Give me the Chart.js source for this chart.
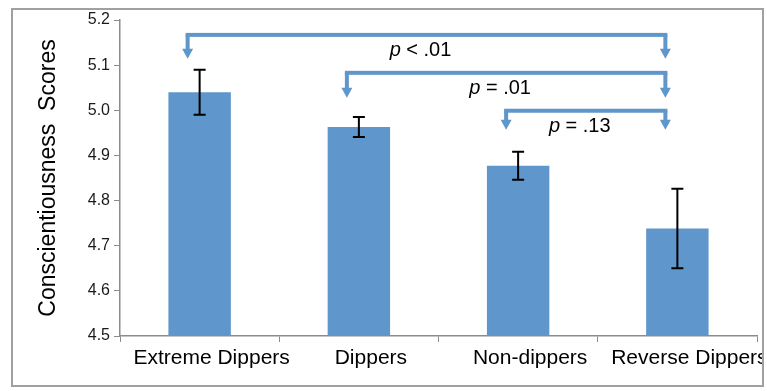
<!DOCTYPE html>
<html>
<head>
<meta charset="utf-8">
<script src="https://cdn.jsdelivr.net/npm/chart.js@4/dist/chart.umd.min.js"></script>
<style>
  html, body { margin: 0; padding: 0; background: #fff; }
  #wrap { width: 767px; height: 391px; }
</style>
</head>
<body>
<div id="wrap"><canvas id="chart"></canvas></div>
<script>
const categories = ['Extreme Dippers', 'Dippers', 'Non-dippers', 'Reverse Dippers'];
const scores = [5.04, 4.963, 4.877, 4.738];
const errors = [0.05, 0.022, 0.031, 0.088];
const yTicks = [4.5, 4.6, 4.7, 4.8, 4.9, 5.0, 5.1, 5.2];

// pairwise comparisons drawn as brackets above the bars
const compareFrom = [0, 1, 2];
const compareTo = [3, 3, 3];
const compareP = ['< .01', '= .01', '= .13'];
const bracketLevel = [5.167, 5.083, 4.999];
const bracketTip = [5.114, 5.028, 4.957];

const blue = '#5F96CB';
const font = '"Liberation Sans", Arial, sans-serif';

const frame = {
  id: 'frame',
  beforeDraw(chart) {
    const ctx = chart.ctx;
    ctx.save();
    ctx.fillStyle = '#fff';
    ctx.fillRect(0, 0, chart.width, chart.height);
    ctx.restore();
  },
  afterDraw(chart) {
    // outer frame; the last label runs under its right edge
    const ctx = chart.ctx;
    ctx.save();
    ctx.fillStyle = '#fff';
    ctx.fillRect(764, 0, chart.width - 764, chart.height);
    ctx.strokeStyle = '#a0a0a0';
    ctx.lineWidth = 2;
    ctx.strokeRect(12, 9, 751, 377);
    ctx.restore();
  },
};

const errorBars = {
  id: 'errorBars',
  afterDatasetsDraw(chart) {
    const ctx = chart.ctx;
    const y = chart.scales.y;
    const meta = chart.getDatasetMeta(0);
    ctx.save();
    ctx.strokeStyle = '#000';
    ctx.lineWidth = 2;
    meta.data.forEach((bar, i) => {
      const top = y.getPixelForValue(scores[i] + errors[i]);
      const bot = y.getPixelForValue(scores[i] - errors[i]);
      ctx.beginPath();
      ctx.moveTo(bar.x, top);
      ctx.lineTo(bar.x, bot);
      ctx.moveTo(bar.x - 6, top);
      ctx.lineTo(bar.x + 6, top);
      ctx.moveTo(bar.x - 6, bot);
      ctx.lineTo(bar.x + 6, bot);
      ctx.stroke();
    });
    ctx.restore();
  },
};

function arrowDown(ctx, x, yTop, yTip) {
  ctx.fillRect(x - 2, yTop, 4, yTip - yTop - 9);
  ctx.beginPath();
  ctx.moveTo(x - 5.5, yTip - 10);
  ctx.lineTo(x + 5.5, yTip - 10);
  ctx.lineTo(x, yTip);
  ctx.closePath();
  ctx.fill();
}

const brackets = {
  id: 'brackets',
  afterDatasetsDraw(chart) {
    const ctx = chart.ctx;
    const x = chart.scales.x;
    const y = chart.scales.y;
    ctx.save();
    compareFrom.forEach((from, i) => {
      const x1 = x.getPixelForValue(from) - 12;
      const x2 = x.getPixelForValue(compareTo[i]) - 12;
      const yl = y.getPixelForValue(bracketLevel[i]);
      const yt = y.getPixelForValue(bracketTip[i]);
      ctx.fillStyle = blue;
      ctx.fillRect(x1 - 2, yl - 2, x2 - x1 + 4, 4);
      arrowDown(ctx, x1, yl, yt);
      arrowDown(ctx, x2, yl, yt);

      // label: italic p + rest
      ctx.fillStyle = '#000';
      ctx.textBaseline = 'middle';
      ctx.textAlign = 'left';
      ctx.font = 'italic 20px ' + font;
      const pW = ctx.measureText('p').width;
      ctx.font = '20px ' + font;
      const rest = ' ' + compareP[i];
      const rW = ctx.measureText(rest).width;
      const sx = (x1 + x2) / 2 - 6 - (pW + rW) / 2;
      const ty = yl + 16;
      ctx.font = 'italic 20px ' + font;
      ctx.fillText('p', sx, ty);
      ctx.font = '20px ' + font;
      ctx.fillText(rest, sx + pW, ty);
    });
    ctx.restore();
  },
};

new Chart(document.getElementById('chart'), {
  type: 'bar',
  data: {
    labels: categories,
    datasets: [{
      data: scores,
      backgroundColor: blue,
      borderWidth: 0,
      barPercentage: 0.8,
      categoryPercentage: 0.49,
    }],
  },
  options: {
    responsive: true,
    maintainAspectRatio: false,
    animation: false,
    events: [],
    layout: { padding: { left: 0, top: 20, right: 10, bottom: 0 } },
    plugins: {
      legend: { display: false },
      tooltip: { enabled: false },
    },
    scales: {
      x: {
        offset: true,
        grid: {
          offset: true,
          drawOnChartArea: false,
          tickLength: 6,
          color: '#8c8c8c',
        },
        border: { color: '#8c8c8c', width: 1.5 },
        ticks: {
          color: '#000',
          font: { family: font, size: 21 },
          padding: 4,
          labelOffset: 12,
          maxRotation: 0,
          autoSkip: false,
        },
        afterFit(s) {
          s.height = 55;
          s.paddingRight = 0;
          s.paddingLeft = 0;
        },
      },
      y: {
        min: yTicks[0],
        max: yTicks[yTicks.length - 1],
        afterBuildTicks(s) { s.ticks = yTicks.map((v) => ({ value: v })); },
        grid: {
          drawOnChartArea: false,
          tickLength: 6,
          color: '#8c8c8c',
        },
        border: { color: '#8c8c8c', width: 1.5 },
        ticks: {
          color: '#1a1a1a',
          font: { family: font, size: 16 },
          padding: 4,
          callback: (v) => Number(v).toFixed(1),
        },
        title: {
          display: true,
          text: 'Conscientiousness  Scores',
          color: '#000',
          font: { family: font, size: 23 },
          padding: { top: 35, bottom: 0 },
        },
        afterFit(s) { s.width = 120; },
      },
    },
  },
  plugins: [frame, errorBars, brackets],
});
</script>
</body>
</html>
